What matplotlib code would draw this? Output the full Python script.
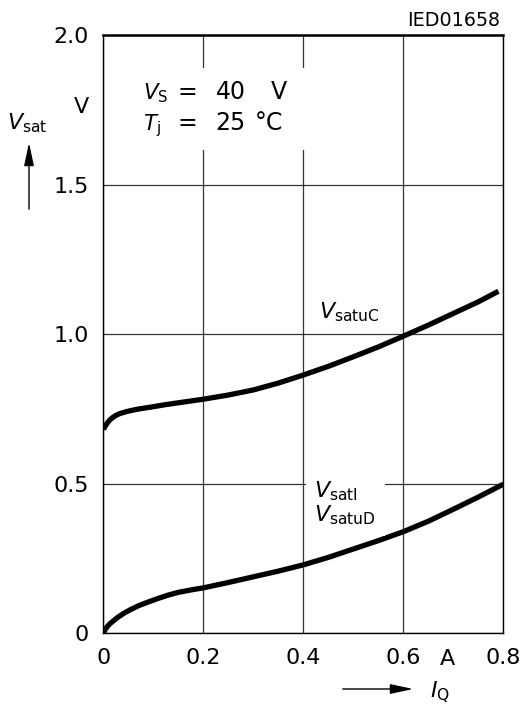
import matplotlib
matplotlib.use("Agg")
import matplotlib.pyplot as plt
from matplotlib.patches import Rectangle, FancyArrowPatch

plt.rcParams['font.family'] = ['DejaVu Sans']
plt.rcParams['mathtext.fontset'] = 'dejavusans'

# V_satuC curve
iq_c = [0, 0.004, 0.008, 0.013, 0.018, 0.025, 0.033, 0.043, 0.055, 0.07, 0.085,
        0.1, 0.125, 0.15, 0.175, 0.2, 0.25, 0.3, 0.35, 0.4, 0.45, 0.5, 0.55,
        0.6, 0.65, 0.7, 0.75, 0.79]
vsat_c = [0.681, 0.693, 0.703, 0.713, 0.720, 0.728, 0.734, 0.739, 0.744, 0.749,
          0.753, 0.757, 0.764, 0.770, 0.776, 0.782, 0.796, 0.813, 0.836, 0.863,
          0.892, 0.924, 0.957, 0.993, 1.030, 1.069, 1.108, 1.143]
# V_satI / V_satuD curve
iq_d = [0, 0.004, 0.008, 0.013, 0.02, 0.03, 0.04, 0.055, 0.07, 0.09, 0.11, 0.13,
        0.15, 0.175, 0.2, 0.25, 0.3, 0.35, 0.4, 0.45, 0.5, 0.55, 0.6, 0.65,
        0.7, 0.75, 0.8]
vsat_d = [0, 0.013, 0.022, 0.031, 0.041, 0.054, 0.065, 0.079, 0.091, 0.104,
          0.116, 0.127, 0.136, 0.144, 0.151, 0.169, 0.188, 0.207, 0.228, 0.253,
          0.281, 0.309, 0.339, 0.374, 0.414, 0.455, 0.498]

xticks = [0, 0.2, 0.4, 0.6, 0.8]
xlabels = ["0", "0.2", "0.4", "0.6", "0.8"]
yticks = [0, 0.5, 1.0, 1.5, 2.0]
ylabels = ["0", "0.5", "1.0", "1.5", "2.0"]

fig = plt.figure(figsize=(5.25, 7.09), dpi=100)
ax = fig.add_axes([0.197, 0.1072, 0.762, 0.8434])

ax.plot(iq_c, vsat_c, color='black', lw=3.8, solid_capstyle='butt', zorder=3)
ax.plot(iq_d, vsat_d, color='black', lw=3.8, solid_capstyle='butt', zorder=3)

ax.set_xlim(0, 0.8)
ax.set_ylim(0, 2.0)
ax.set_xticks(xticks, xlabels)
ax.set_yticks(yticks, ylabels)
ax.tick_params(length=0, labelsize=16, pad=10.5)
ax.grid(True, color='#333333', lw=0.9)
ax.set_axisbelow(True)
for s in ax.spines.values():
    s.set_linewidth(1.0)
ax.spines['top'].set_linewidth(1.8)

# units as extra labels
ax.text(-0.028, 1.76, "V", fontsize=16, ha='right', va='center')
ax.text(0.6875, -0.086, "A", fontsize=16, ha='center', va='center')

# condition box
ax.add_patch(Rectangle((0.04, 1.615), 0.4, 0.275, facecolor='white',
                       edgecolor='none', zorder=1))
y1, y2 = 1.786, 1.682
ax.text(0.079, y1, r"$V_{\rm S}$", fontsize=15.5, ha='left', va='baseline', zorder=2)
ax.text(0.148, y1, "=", fontsize=17, ha='left', va='baseline', zorder=2)
ax.text(0.224, y1, "40", fontsize=17, ha='left', va='baseline', zorder=2)
ax.text(0.334, y1, "V", fontsize=17, ha='left', va='baseline', zorder=2)
ax.text(0.079, y2, r"$T_{\rm j}$", fontsize=15.5, ha='left', va='baseline', zorder=2)
ax.text(0.148, y2, "=", fontsize=17, ha='left', va='baseline', zorder=2)
ax.text(0.224, y2, "25", fontsize=17, ha='left', va='baseline', zorder=2)
ax.text(0.303, y2, "°C", fontsize=17, ha='left', va='baseline', zorder=2)

# curve labels
ax.text(0.432, 1.052, r"$V_{\rm satuC}$", fontsize=16, ha='left', va='baseline')
ax.text(0.422, 0.515, r"$V_{\rm satI}$" + "\n" + r"$V_{\rm satuD}$", fontsize=16,
        ha='left', va='top', linespacing=1.05,
        bbox=dict(facecolor='white', edgecolor='none', pad=6))

# axis titles with arrows
fig.text(27 / 525, 1 - 123 / 709, r"$V_{\rm sat}$", fontsize=16, ha='center', va='center')
fig.add_artist(FancyArrowPatch(
    (29 / 525, 1 - 212 / 709), (29 / 525, 1 - 140 / 709), transform=fig.transFigure,
    arrowstyle='-|>,head_length=14,head_width=3', color='black', lw=1.0))
fig.text(440 / 525, 1 - 692 / 709, r"$I_{\rm Q}$", fontsize=16, ha='center', va='center')
fig.add_artist(FancyArrowPatch(
    (340 / 525, 1 - 689 / 709), (416 / 525, 1 - 689 / 709), transform=fig.transFigure,
    arrowstyle='-|>,head_length=14,head_width=3', color='black', lw=1.0))

fig.text(500 / 525, 1 - 20 / 709, "IED01658", fontsize=13.8, ha='right', va='center')

fig.savefig("out.png", dpi=100, facecolor='white')
